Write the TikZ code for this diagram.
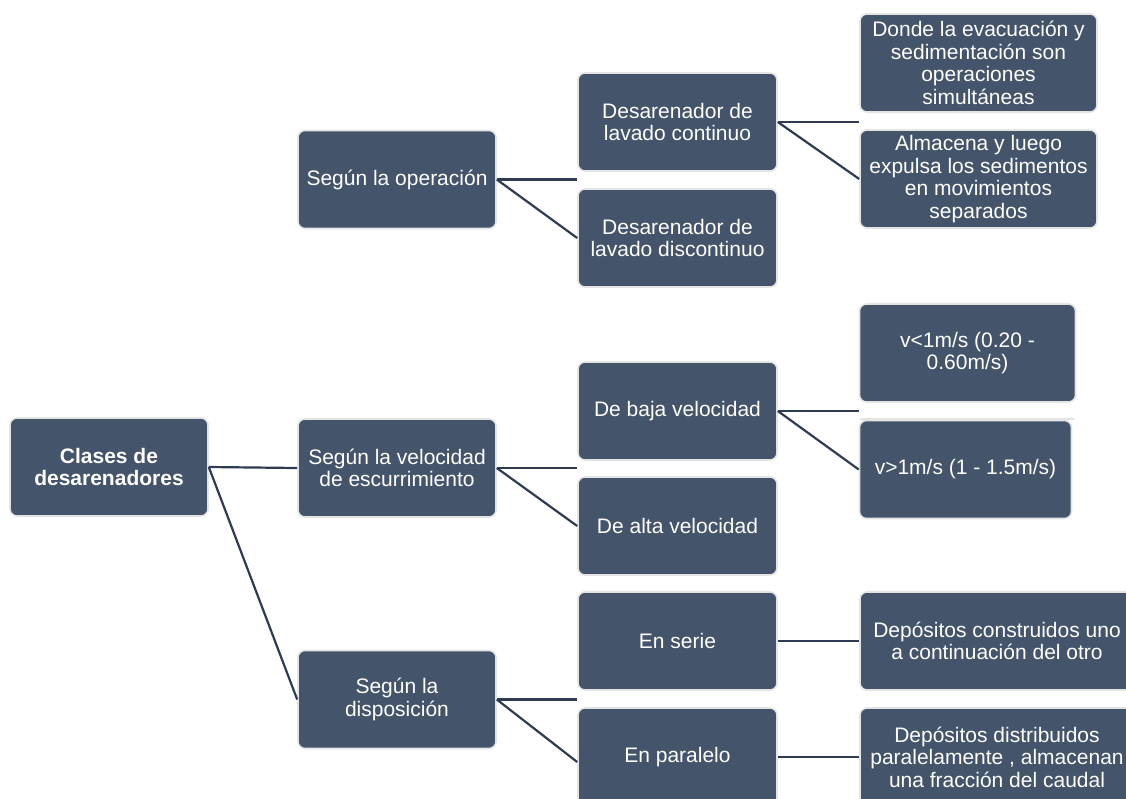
\documentclass[tikz,border=0pt]{standalone}
\usepackage{fontspec}
\setmainfont{Liberation Sans}
\definecolor{boxfill}{HTML}{44546A}
\definecolor{boxedge}{HTML}{E4E4E4}
\definecolor{linkcol}{HTML}{2E3B52}
\tikzset{
  box/.style={draw=boxedge, line width=1.6pt, fill=boxfill, rounded corners=7pt,
    text=white, align=center, inner sep=0pt,
    font={\fontsize{21pt}{22.5pt}\selectfont}},
  link/.style={draw=linkcol, line width=2.2pt},
}
\begin{document}
\begin{tikzpicture}[x=1pt, y=-1pt]
\clip (0,0) rectangle (1126,798);
\fill[white] (0,0) rectangle (1126,798);
% root
\node[box, minimum width=198pt, minimum height=98pt] (root) at (109,467) {\bfseries Clases de\\\bfseries desarenadores};
% level 1
\node[box, minimum width=198pt, minimum height=98pt] (op) at (397,179.5) {Según la operación};
\node[box, minimum width=198pt, minimum height=98pt] (vel) at (397,468) {Según la velocidad\\de escurrimiento};
\node[box, minimum width=198pt, minimum height=98pt] (disp) at (397,699.5) {Según la\\disposición};
% level 2
\node[box, minimum width=199pt, minimum height=98pt] (cont) at (677.5,122) {Desarenador de\\lavado continuo};
\node[box, minimum width=199pt, minimum height=98pt] (disc) at (677.5,238) {Desarenador de\\lavado discontinuo};
\node[box, minimum width=199pt, minimum height=98pt] (baja) at (677.5,411) {De baja velocidad};
\node[box, minimum width=199pt, minimum height=98pt] (alta) at (677.5,526) {De alta velocidad};
\node[box, minimum width=199pt, minimum height=98pt] (serie) at (677.5,641) {En serie};
\node[box, minimum width=199pt, minimum height=98pt] (paral) at (677.5,757) {En paralelo};
% level 3
\node[box, minimum width=237pt, minimum height=98pt] (donde) at (978.5,63) {Donde la evacuación y\\sedimentación son\\operaciones\\simultáneas};
\node[box, minimum width=237pt, minimum height=98pt] (almac) at (978.5,179) {Almacena y luego\\expulsa los sedimentos\\en movimientos\\separados};
\node[box, minimum width=216pt, minimum height=98pt] (vlow) at (967.5,353) {v<1m/s (0.20 -\\0.60m/s)};
\node[box, minimum width=212pt, minimum height=98pt] (vhigh) at (965.5,469.5) {v>1m/s (1 - 1.5m/s)};
\node[box, minimum width=274pt, minimum height=98pt] (dep1) at (997,641) {Depósitos construidos uno\\a continuación del otro};
\node[box, minimum width=274pt, minimum height=98pt] (dep2) at (997,757) {Depósitos distribuidos\\paralelamente , almacenan\\una fracción del caudal};
% faint line above v>1 box
\coordinate (fa) at (860,419);
\coordinate (fb) at (1074,419);
\draw[boxedge, line width=1.4pt] (fa) -- (fb);
% gap coordinates
\coordinate (g1) at (cont.west |- op.east);
\coordinate (g2) at (donde.west |- cont.east);
\coordinate (g3) at (baja.west |- vel.east);
\coordinate (g4) at (vlow.west |- baja.east);
\coordinate (g5) at (serie.west |- disp.east);
% connectors
\draw[link] (root.east) -- (vel.west);
\draw[link] (root.east) -- (disp.west);
\draw[link] (op.east) -- (g1);
\draw[link] (op.east) -- (disc.west);
\draw[link] (cont.east) -- (g2);
\draw[link] (cont.east) -- (almac.west);
\draw[link] (vel.east) -- (g3);
\draw[link] (vel.east) -- (alta.west);
\draw[link] (baja.east) -- (g4);
\draw[link] (baja.east) -- (vhigh.west);
\draw[link] (disp.east) -- (g5);
\draw[link] (disp.east) -- ([yshift=-5pt]paral.west);
\draw[link] (serie.east) -- (dep1.west);
\draw[link] (paral.east) -- (dep2.west);
\end{tikzpicture}
\end{document}
